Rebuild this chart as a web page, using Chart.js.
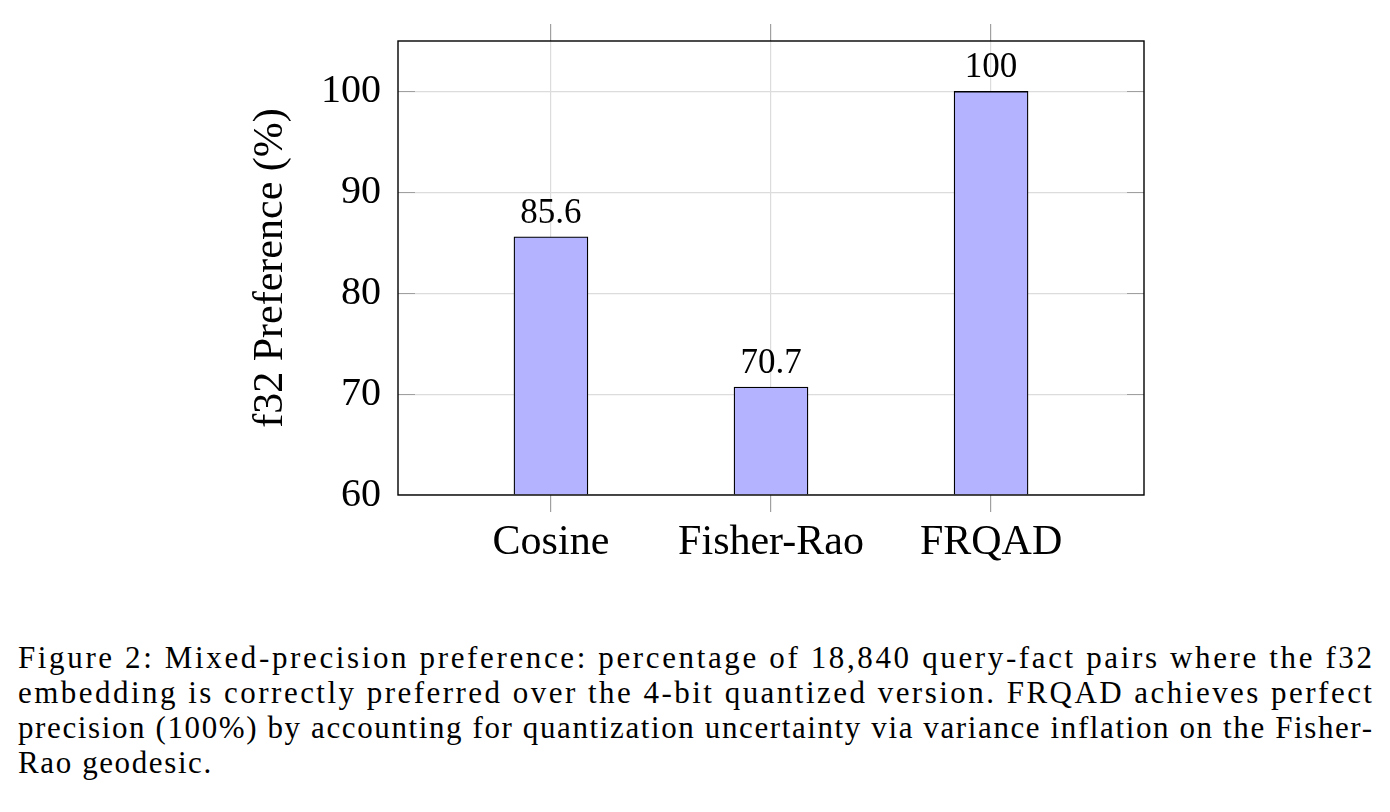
<!DOCTYPE html>
<html>
<head>
<meta charset="utf-8">
<script src="https://cdn.jsdelivr.net/npm/chart.js@4.4.1/dist/chart.umd.min.js"></script>
<style>
  html, body { margin: 0; padding: 0; background: #fff; }
  body { width: 1390px; height: 812px; position: relative; overflow: hidden; }
  #chart { position: absolute; left: 0; top: 0; }
  .caption {
    position: absolute; left: 18px; top: 640px; width: 1354px;
    font-family: "Liberation Serif", "DejaVu Serif", serif;
    font-size: 31px; line-height: 35px; color: #000;
  }
  .caption div { white-space: nowrap; }
  .caption span { display: inline-block; }
</style>
</head>
<body>
<canvas id="chart" width="1390" height="600"></canvas>
<div class="caption" id="caption">
  <div><span>Figure 2: Mixed-precision preference: percentage of 18,840 query-fact pairs where the f32</span></div>
  <div><span>embedding is correctly preferred over the 4-bit quantized version. FRQAD achieves perfect</span></div>
  <div><span>precision (100%) by accounting for quantization uncertainty via variance inflation on the Fisher-</span></div>
  <div class="last"><span>Rao geodesic.</span></div>
</div>
<script>
const categories = ['Cosine', 'Fisher-Rao', 'FRQAD'];
const preference = [85.6, 70.7, 100];
const yTicks = [60, 70, 80, 90, 100];

const SERIF = '"Liberation Serif", "DejaVu Serif", serif';
const GRID = '#dcdcdc';
const TICK = '#a0a0a0';

// stretch caption lines to the full width (LaTeX justified look)
(function fitCaption() {
  const spans = [...document.querySelectorAll('#caption span')];
  let spacing = 0;
  spans.forEach((sp, i) => {
    if (i === spans.length - 1) { sp.style.letterSpacing = spacing + 'px'; return; }
    const w = sp.getBoundingClientRect().width;
    spacing = (1354 - w) / (sp.textContent.length - 1);
    sp.style.letterSpacing = spacing + 'px';
  });
})();

// value labels above each bar
const valueLabels = {
  id: 'valueLabels',
  afterDatasetsDraw(chart) {
    const { ctx } = chart;
    const meta = chart.getDatasetMeta(0);
    ctx.save();
    ctx.font = `35px ${SERIF}`;
    ctx.fillStyle = '#000';
    ctx.textAlign = 'center';
    ctx.textBaseline = 'alphabetic';
    meta.data.forEach((bar, i) => {
      ctx.fillText(String(preference[i]), bar.x, bar.y - 14);
    });
    ctx.restore();
  },
};

// box frame + inner y tick marks, pgfplots style
const frame = {
  id: 'frame',
  afterDraw(chart) {
    const { ctx, chartArea: a } = chart;
    const y = chart.scales.y;
    ctx.save();
    ctx.strokeStyle = TICK;
    ctx.lineWidth = 1.2;
    yTicks.slice(1).forEach(v => {
      const py = Math.round(y.getPixelForValue(v)) + 0.5;
      ctx.beginPath();
      ctx.moveTo(a.left, py); ctx.lineTo(a.left + 17, py);
      ctx.moveTo(a.right - 17, py); ctx.lineTo(a.right, py);
      ctx.stroke();
    });
    ctx.strokeStyle = '#000';
    ctx.lineWidth = 1.4;
    ctx.strokeRect(a.left, a.top, a.right - a.left, a.bottom - a.top);
    ctx.restore();
  },
};

const xBase = {
  type: 'linear',
  min: -0.695,
  max: 2.695,
  offset: false,
  afterBuildTicks: s => { s.ticks = categories.map((_, i) => ({ value: i })); },
};

new Chart(document.getElementById('chart').getContext('2d'), {
  type: 'bar',
  data: {
    datasets: [{
      data: preference.map((v, i) => ({ x: i, y: v })),
      backgroundColor: '#b3b3ff',
      borderColor: '#000',
      borderWidth: 1.3,
      barThickness: 74,
      base: 60,
    }],
  },
  options: {
    responsive: false,
    animation: false,
    layout: { padding: { left: 246, right: 246, top: 22, bottom: 0 } },
    plugins: { legend: { display: false }, tooltip: { enabled: false } },
    scales: {
      x: {
        ...xBase,
        position: 'bottom',
        afterFit: s => { s.height = 105; },
        ticks: {
          color: '#000',
          font: { family: SERIF, size: 42 },
          padding: 6,
          callback: v => categories[v] ?? '',
        },
        grid: { offset: false, color: GRID, tickColor: TICK, tickLength: 17, lineWidth: 1.2 },
        border: { display: false },
      },
      xTop: {
        ...xBase,
        position: 'top',
        afterFit: s => { s.height = 17; },
        ticks: { display: false },
        grid: { offset: false, drawOnChartArea: false, tickColor: TICK, tickLength: 17, lineWidth: 1.2 },
        border: { display: false },
      },
      y: {
        min: 60,
        max: 105,
        afterBuildTicks: s => { s.ticks = yTicks.map(v => ({ value: v })); },
        afterFit: s => { s.width = 152; },
        ticks: {
          color: '#000',
          font: { family: SERIF, size: 40 },
          padding: 17,
        },
        grid: { color: GRID, drawTicks: false, lineWidth: 1.2 },
        border: { display: false },
        title: {
          display: true,
          text: 'f32 Preference (%)',
          color: '#000',
          font: { family: SERIF, size: 42 },
          padding: { top: 0, bottom: 0 },
        },
      },
    },
  },
  plugins: [valueLabels, frame],
});
</script>
</body>
</html>
